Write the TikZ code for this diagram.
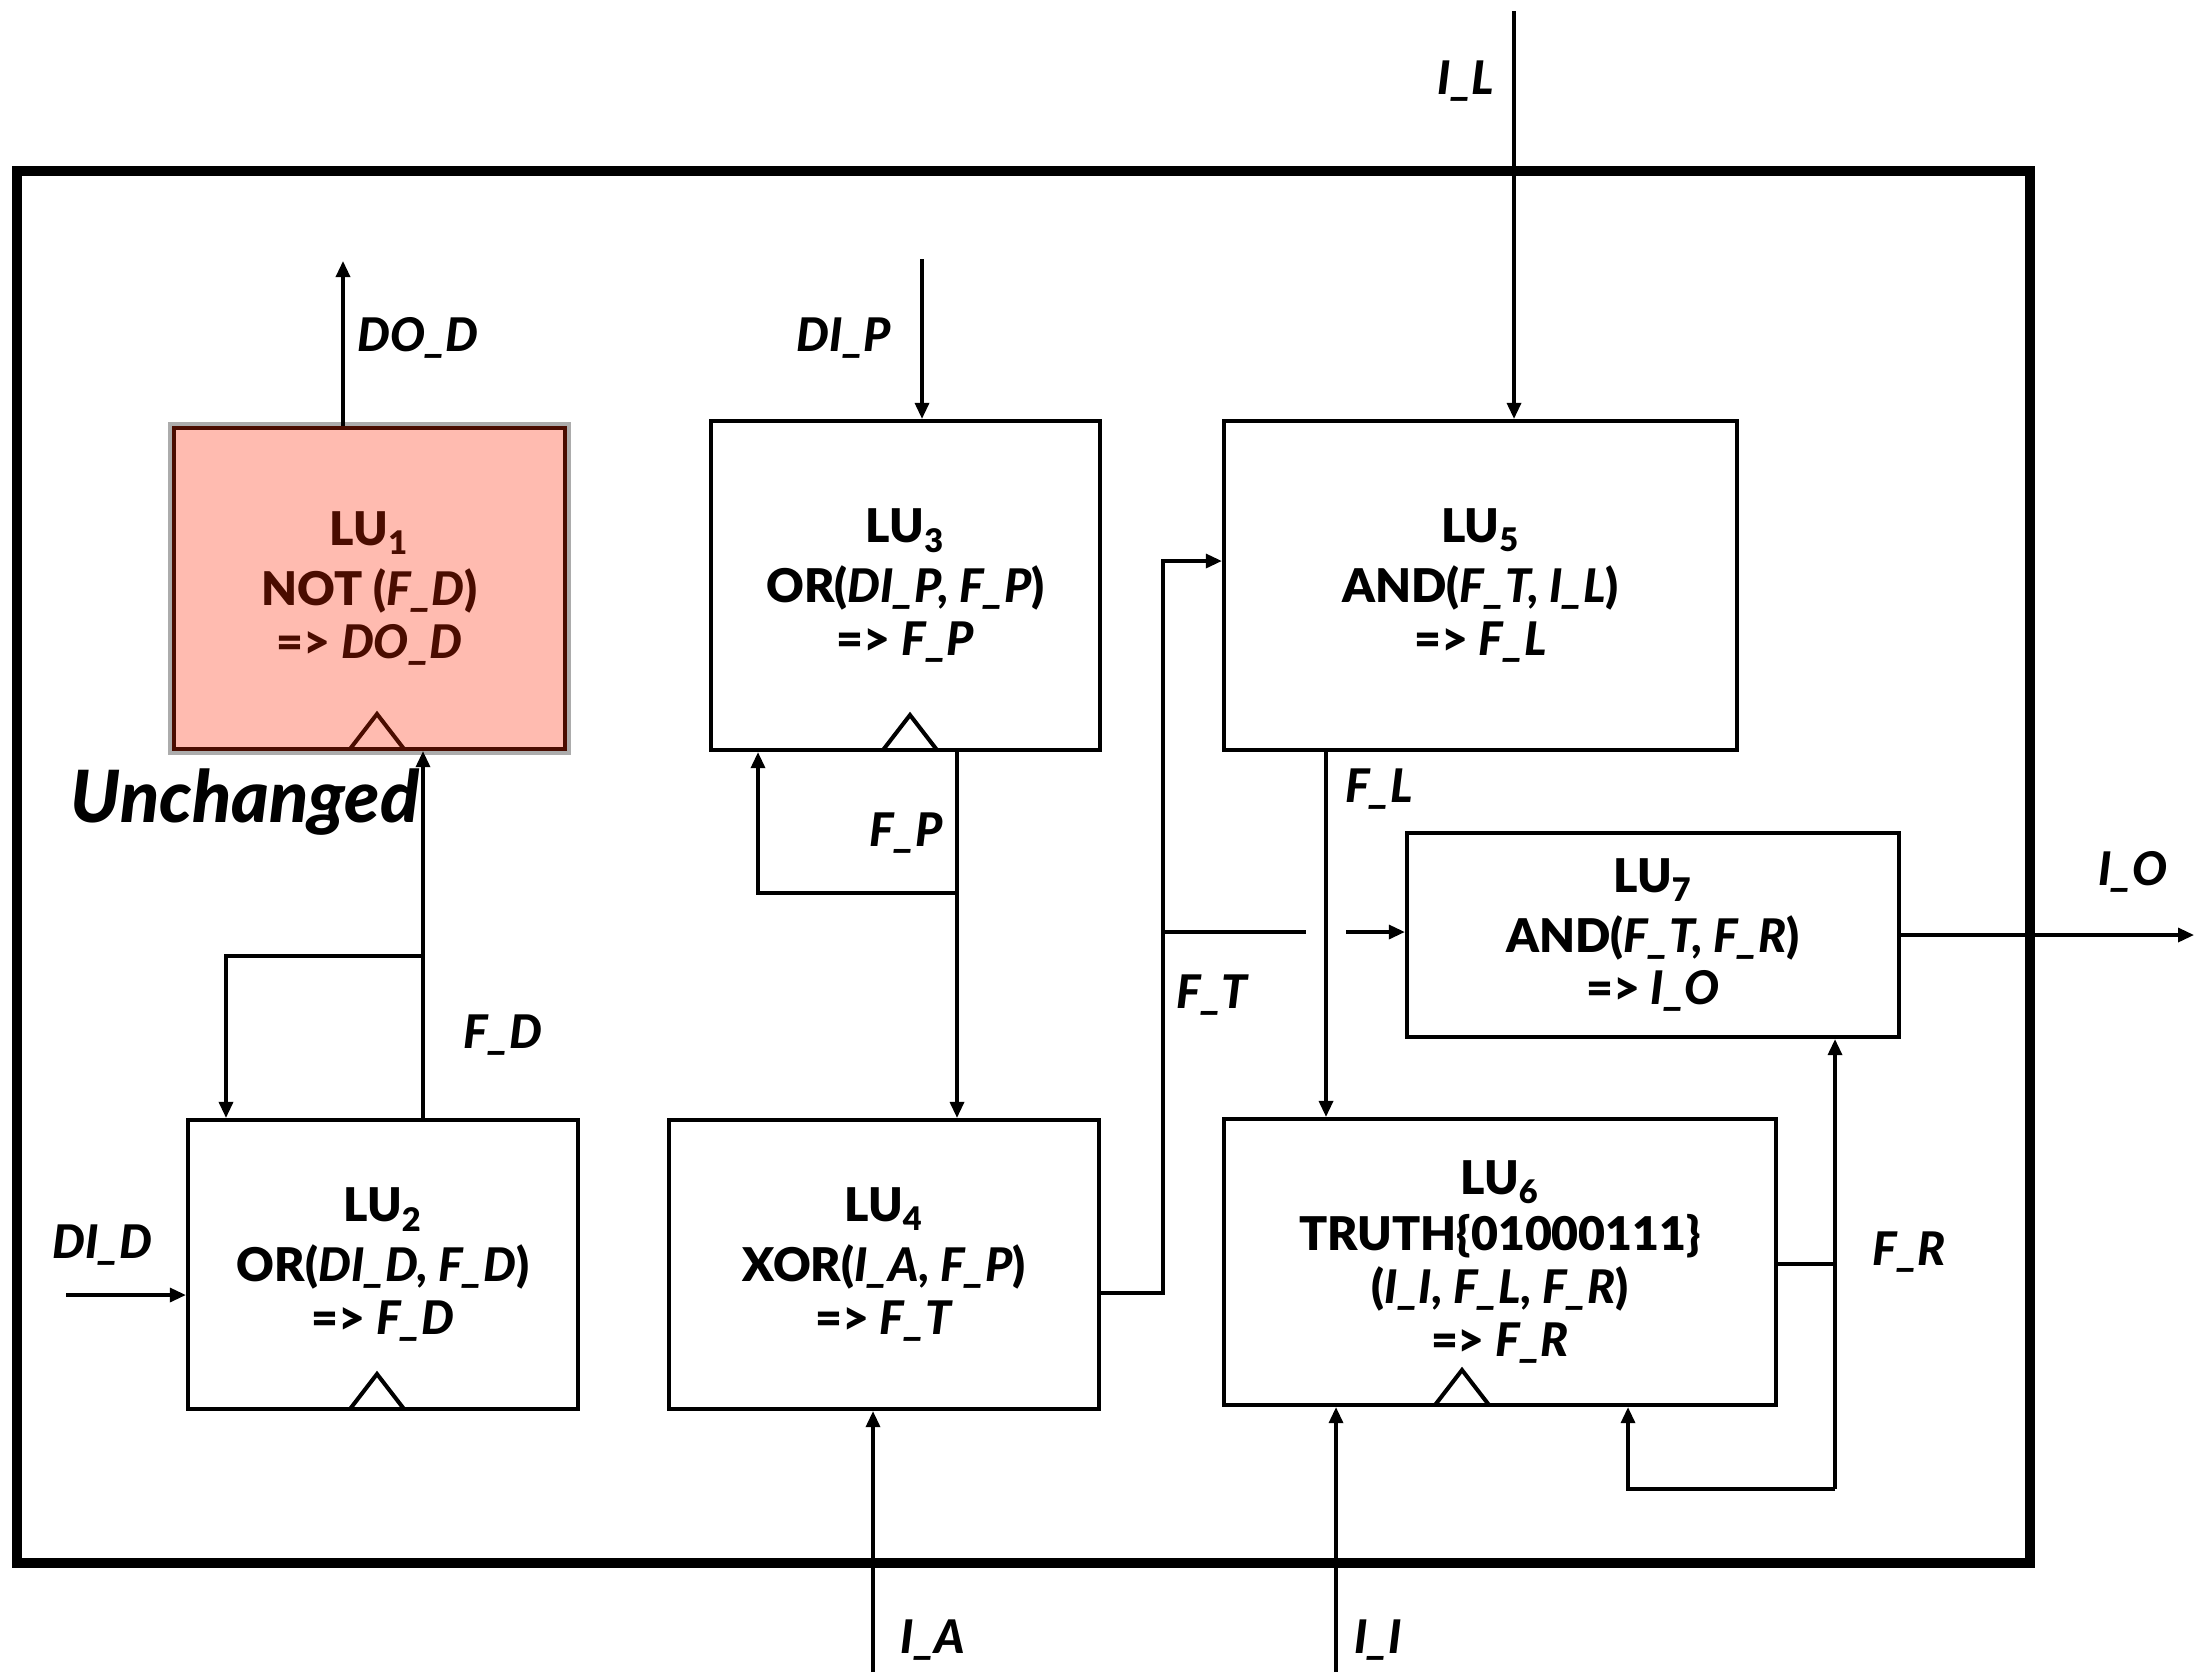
\documentclass[tikz,border=0pt]{standalone}
\usepackage{fontspec}
\setmainfont{Lato}[BoldFont={Lato Black},BoldItalicFont={Lato Black Italic}]
\usetikzlibrary{arrows.meta}
\definecolor{lusalmon}{HTML}{FFBBB0}
\definecolor{ludark}{HTML}{4A0C00}
\newcommand{\lufont}{\fontsize{13.2}{15}\selectfont\bfseries}
\begin{document}
\begin{tikzpicture}[x=0.01cm,y=-0.01cm,
  wire/.style={line width=0.95pt},
  arr/.style={wire,-{Triangle[length=0.16cm,width=0.14cm]}},
  lubox/.style={draw,line width=1.15pt,inner sep=0pt,align=center,font=\lufont},
  sig/.style={font=\lufont\itshape}]
\useasboundingbox (0,0) rectangle (2198,1672);
\draw[line width=2.85pt] (17,171) rectangle (2030,1563);
% logic units
\node[lubox,minimum width=3.91cm,minimum height=3.21cm,fill=lusalmon,draw=ludark,text=ludark,
  preaction={draw=gray!65,line width=3.2pt}] (lu1) at (369.5,588.5)
  {LU\textsubscript{1}\\[2pt]NOT (\textit{F\_D})\\=> \textit{DO\_D}};
\node[lubox,minimum width=3.90cm,minimum height=2.89cm] (lu2) at (383,1264.5)
  {LU\textsubscript{2}\\[2pt]OR(\textit{DI\_D, F\_D})\\=> \textit{F\_D}};
\node[lubox,minimum width=3.89cm,minimum height=3.29cm] (lu3) at (905.5,585.5)
  {LU\textsubscript{3}\\[2pt]OR(\textit{DI\_P, F\_P})\\=> \textit{F\_P}};
\node[lubox,minimum width=4.30cm,minimum height=2.89cm] (lu4) at (884,1264.5)
  {LU\textsubscript{4}\\[2pt]XOR(\textit{I\_A, F\_P})\\=> \textit{F\_T}};
\node[lubox,minimum width=5.13cm,minimum height=3.29cm] (lu5) at (1480.5,585.5)
  {LU\textsubscript{5}\\[2pt]AND(\textit{F\_T, I\_L})\\=> \textit{F\_L}};
\node[lubox,minimum width=5.52cm,minimum height=2.86cm] (lu6) at (1500,1262)
  {LU\textsubscript{6}\\[1pt]TRUTH\{01000111\}\\(\textit{I\_I, F\_L, F\_R})\\=> \textit{F\_R}};
\node[lubox,minimum width=4.92cm,minimum height=2.04cm] (lu7) at (1653,935)
  {LU\textsubscript{7}\\[2pt]AND(\textit{F\_T, F\_R})\\=> \textit{I\_O}};
% clock marks
\draw[line width=1.15pt,ludark] (350,749) -- (377,714) -- (404,749);
\draw[line width=1.15pt] (350,1409) -- (377,1374) -- (404,1409);
\draw[line width=1.15pt] (883,750) -- (910,715) -- (937,750);
\draw[line width=1.15pt] (1435,1405) -- (1462,1370) -- (1489,1405);
% inputs and outputs
\coordinate (dod) at (343,261);
\draw[arr] (lu1.north -| dod) -- (dod);
\coordinate (dip) at (922,259);
\draw[arr] (dip) -- (dip |- lu3.north);
\coordinate (il) at (1514,11);
\draw[arr] (il) -- (il |- lu5.north);
\coordinate (ia) at (873,1672);
\draw[arr] (ia) -- (ia |- lu4.south);
\coordinate (ii) at (1336,1672);
\draw[arr] (ii) -- (ii |- lu6.south);
\coordinate (did) at (66,1295);
\draw[arr] (did) -- (did -| lu2.west);
\coordinate (io) at (2194,935);
\draw[arr] (lu7.east |- io) -- (io);
% F_D
\coordinate (fd) at (423,956);
\coordinate (fdl) at (226,956);
\draw[arr] (lu2.north -| fd) -- (lu1.south -| fd);
\draw[arr] (fd) -- (fdl) -- (fdl |- lu2.north);
% F_P
\coordinate (fp) at (957,893);
\coordinate (fpl) at (758,893);
\draw[arr] (lu3.south -| fp) -- (lu4.north -| fp);
\draw[arr] (fp) -- (fpl) -- (fpl |- lu3.south);
% F_T
\coordinate (ft) at (1163,1293);
\coordinate (ftu) at (1163,561);
\coordinate (ftb) at (1163,932);
\coordinate (gapa) at (1306,932);
\coordinate (gapb) at (1346,932);
\draw[arr] (lu4.east |- ft) -- (ft) -- (ftu) -- (ftu -| lu5.west);
\draw[wire] (ftb) -- (gapa);
\draw[arr] (gapb) -- (lu7.west |- gapb);
% F_L
\coordinate (fl) at (1326,0);
\draw[arr] (lu5.south -| fl) -- (lu6.north -| fl);
% F_R
\coordinate (fr) at (1835,1264);
\coordinate (frb) at (1835,1489);
\coordinate (frl) at (1628,1489);
\draw[wire] (lu6.east |- fr) -- (fr);
\draw[arr] (frb) -- (lu7.south -| frb);
\draw[arr] (frb) -- (frl) -- (frl |- lu6.south);
% labels
\node[sig] (ldod) at (418,338) {DO\_D};
\node[sig] (ldip) at (844,338) {DI\_P};
\node[sig] (lil) at (1466,81) {I\_L};
\node[sig] (lfp) at (906,833) {F\_P};
\node[sig] (lfd) at (503,1035) {F\_D};
\node[sig] (ldid) at (102,1245) {DI\_D};
\node[sig] (lfl) at (1379,789) {F\_L};
\node[sig] (lft) at (1212,995) {F\_T};
\node[sig] (lio) at (2133,872) {I\_O};
\node[sig] (lfr) at (1909,1252) {F\_R};
\node[sig] (lia) at (933,1640) {I\_A};
\node[sig] (lii) at (1378,1640) {I\_I};
\node[font=\fontsize{20.5}{22}\selectfont\bfseries\itshape] (unch) at (245,802) {Unchanged};
\end{tikzpicture}
\end{document}
